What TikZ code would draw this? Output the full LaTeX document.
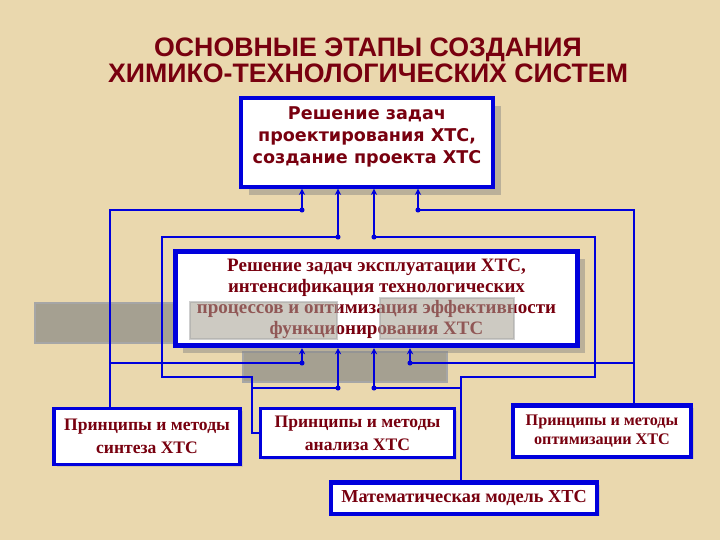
\documentclass[tikz,border=0pt]{standalone}
\usepackage{fontspec}
\setmainfont{Liberation Serif}
\newfontfamily\headfont{Liberation Sans}
\newfontfamily\boxfont{DejaVu Sans}
\usetikzlibrary{arrows.meta, shadows}
\definecolor{parch}{RGB}{234, 216, 174}
\definecolor{frameblue}{RGB}{0, 0, 220}
\definecolor{textred}{RGB}{120, 0, 15}
\definecolor{patchgray}{RGB}{165, 160, 145}

\begin{document}
\begin{tikzpicture}[x=0.025cm, y=-0.025cm,
  stage/.style={draw=frameblue, fill=white, line width=2.4pt, inner sep=0pt, align=center,
    text=textred, font=\bfseries\fontsize{12.5}{16.5}\selectfont},
  big shadow/.style={drop shadow={shadow xshift=5.5pt, shadow yshift=-5.5pt, fill=black!50, opacity=0.45}},
  small shadow/.style={drop shadow={shadow xshift=2pt, shadow yshift=-2pt, fill=black!40, opacity=0.3}},
  link/.style={draw=frameblue, line width=1.5pt, -{Stealth[length=4.5pt, width=4.5pt]}},
  wire/.style={draw=frameblue, line width=0.8pt},
  patch/.style={fill=patchgray, draw=black!35, line width=0.8pt}
]
  % Background
  \fill[parch] (0,0) rectangle (720,540);
  \fill[patch] (35,303) rectangle (174,343);
  \fill[patch] (243,352) rectangle (447,382);

  % Title
  \node[font=\headfont\bfseries\fontsize{19}{18.5}\selectfont, text=textred, align=center] (title) at (368,60)
    {ОСНОВНЫЕ ЭТАПЫ СОЗДАНИЯ\\ХИМИКО-ТЕХНОЛОГИЧЕСКИХ СИСТЕМ};

  % Stages
  \node[stage, big shadow, minimum width=6.3cm, minimum height=2.22cm] (design) at (367,142.5) {};
  \node[font=\boxfont\bfseries\fontsize{12.5}{15.6}\selectfont, text=textred, align=center] (designtxt) at (367,137)
    {Решение задач\\проектирования ХТС,\\создание проекта ХТС};
  \node[stage, big shadow, line width=3.6pt, minimum width=10.05cm, minimum height=2.35cm, font=\bfseries\fontsize{13.5}{15}\selectfont] (oper) at (376.5,298.5)
    {Решение задач эксплуатации ХТС,\\интенсификация технологических\\процессов и оптимизация эффективности\\функционирования ХТС};
  \node[stage, small shadow, minimum width=4.65cm, minimum height=1.4cm] (synth) at (147,436.5)
    {Принципы и методы\\синтеза ХТС};
  \node[stage, small shadow, minimum width=4.85cm, minimum height=1.23cm] (anal) at (357.5,433)
    {Принципы и методы\\анализа ХТС};
  \node[stage, small shadow, line width=3pt, minimum width=4.45cm, minimum height=1.28cm, font=\bfseries\fontsize{11.5}{13.5}\selectfont] (optim) at (602,431)
    {Принципы и методы\\оптимизации ХТС};
  \node[stage, small shadow, line width=3pt, minimum width=6.65cm, minimum height=0.78cm, font=\bfseries\fontsize{13}{16}\selectfont] (model) at (464,498)
    {Математическая модель ХТС};

  % Patches over the middle box
  \fill[patch, opacity=0.55] (190,302) rectangle (337,339);
  \fill[patch, opacity=0.55] (380,298) rectangle (514,339);

  % Junctions
  \coordinate (ua) at (302,210);
  \coordinate (ub) at (338,237);
  \coordinate (uc) at (374,237);
  \coordinate (ud) at (418,210);
  \coordinate (la) at (302,363);
  \coordinate (lb) at (338,388);
  \coordinate (lc) at (374,388);
  \coordinate (ld) at (410,363);
  \coordinate (wl) at (110,210);
  \coordinate (wr) at (634,210);
  \coordinate (vl) at (162,237);
  \coordinate (vr) at (595,237);
  \coordinate (kl) at (252,377);
  \coordinate (kr) at (461,377);

  % Outer loop
  \draw[wire] (ua) -- (wl) -- (wl |- synth.north);
  \draw[wire] (la) -- (la -| wl);
  \draw[wire] (ud) -- (wr) -- (wr |- optim.north);
  \draw[wire] (ld) -- (ld -| wr);

  % Inner loop
  \draw[wire] (ub) -- (vl) |- (kl) |- (anal.west);
  \draw[wire] (lb) -- (lb -| kl);
  \draw[wire] (uc) -- (vr) |- (kr) -- (kr |- model.north);
  \draw[wire] (lc) -- (lc -| kr);

  % Links into the stages
  \foreach \j in {ua, ub, uc, ud} {
    \draw[link] (\j) -- (\j |- design.south);
    \fill[frameblue] (\j) circle (1.8pt);
  }
  \foreach \j in {la, lb, lc, ld} {
    \draw[link] (\j) -- (\j |- oper.south);
    \fill[frameblue] (\j) circle (1.8pt);
  }
\end{tikzpicture}
\end{document}
